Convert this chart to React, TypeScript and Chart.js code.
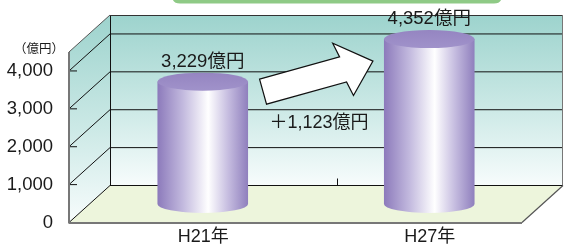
import React, { useEffect, useRef } from 'react';
import { Chart, registerables } from 'chart.js';

Chart.register(...registerables);

const categories = ['H21年', 'H27年'];
const values = [3229, 4352];
const valueLabels = ['3,229億円', '4,352億円'];
const yTicks = [0, 1000, 2000, 3000, 4000];
const yMin = 0;
const yMax = 4500;
const unitLabel = '（億円）';
const diffLabel = '＋1,123億円';

const DX = 41;
const DY = 37;
const FONT = "'Liberation Sans', 'Noto Sans CJK JP', sans-serif";
const TEXT = '#1a1a1a';

const threeDPlugin = {
  id: 'threeD',
  beforeDraw(chart: any) {
    const { ctx } = chart;
    ctx.save();
    // title box remnant at top
    const x0 = 172, x1 = 502, y0 = -12, y1 = 3.5, r = 8;
    ctx.beginPath();
    ctx.moveTo(x0, y0);
    ctx.lineTo(x0, y1 - r);
    ctx.quadraticCurveTo(x0, y1, x0 + r, y1);
    ctx.lineTo(x1 - r, y1);
    ctx.quadraticCurveTo(x1, y1, x1, y1 - r);
    ctx.lineTo(x1, y0);
    ctx.closePath();
    ctx.fillStyle = '#8fca86';
    ctx.fill();
    ctx.restore();
  },
  beforeDatasetsDraw(chart: any) {
    const { ctx, chartArea: a, scales } = chart;
    const y = scales.y;
    const x = scales.x;
    const L = a.left;
    const R = a.right;
    const T = y.getPixelForValue(yMax);
    const B = y.getPixelForValue(yMin);
    ctx.save();

    // back wall
    const g = ctx.createLinearGradient(0, T - DY, 0, B - DY);
    g.addColorStop(0, '#9dd3cd');
    g.addColorStop(0.55, '#cce9e6');
    g.addColorStop(1, '#f7fcfc');
    ctx.fillStyle = g;
    ctx.fillRect(L + DX, T - DY, R - L, B - T);

    // left wall
    const g2 = ctx.createLinearGradient(0, T - DY, 0, B);
    g2.addColorStop(0, '#9dd3cd');
    g2.addColorStop(0.55, '#cce9e6');
    g2.addColorStop(1, '#f7fcfc');
    ctx.beginPath();
    ctx.moveTo(L, T);
    ctx.lineTo(L + DX, T - DY);
    ctx.lineTo(L + DX, B - DY);
    ctx.lineTo(L, B);
    ctx.closePath();
    ctx.fillStyle = g2;
    ctx.fill();

    // floor
    ctx.beginPath();
    ctx.moveTo(L, B);
    ctx.lineTo(R, B);
    ctx.lineTo(R + DX, B - DY);
    ctx.lineTo(L + DX, B - DY);
    ctx.closePath();
    ctx.fillStyle = '#edf5dc';
    ctx.fill();

    // grid lines
    ctx.strokeStyle = '#111';
    ctx.lineWidth = 1;
    yTicks.forEach((v) => {
      const py = y.getPixelForValue(v);
      ctx.beginPath();
      ctx.moveTo(L, py);
      ctx.lineTo(L + DX, py - DY);
      ctx.lineTo(R + DX, py - DY);
      ctx.stroke();
      if (v > 0) {
        ctx.beginPath();
        ctx.moveTo(L, py);
        ctx.lineTo(L + 8, py);
        ctx.stroke();
      }
    });

    // back wall left edge
    ctx.beginPath();
    ctx.moveTo(L + DX + 0.5, T - DY);
    ctx.lineTo(L + DX + 0.5, B - DY);
    ctx.stroke();

    // back wall top edge
    ctx.strokeStyle = '#333';
    ctx.beginPath();
    ctx.moveTo(L + DX, T - DY + 0.5);
    ctx.lineTo(R + DX, T - DY + 0.5);
    ctx.stroke();

    // back wall right edge
    ctx.strokeStyle = '#777';
    ctx.beginPath();
    ctx.moveTo(R + DX - 0.5, T - DY);
    ctx.lineTo(R + DX - 0.5, B - DY);
    ctx.stroke();

    // left wall top edge
    ctx.strokeStyle = '#555';
    ctx.beginPath();
    ctx.moveTo(L, T);
    ctx.lineTo(L + DX, T - DY);
    ctx.stroke();

    // front axis
    ctx.strokeStyle = '#777';
    ctx.lineWidth = 2;
    ctx.beginPath();
    ctx.moveTo(L, T);
    ctx.lineTo(L, B + 1);
    ctx.stroke();

    // floor front edge and right diagonal
    ctx.beginPath();
    ctx.moveTo(L, B + 0.5);
    ctx.lineTo(R, B + 0.5);
    ctx.stroke();
    ctx.lineWidth = 1.2;
    ctx.strokeStyle = '#555';
    ctx.beginPath();
    ctx.moveTo(R, B);
    ctx.lineTo(R + DX, B - DY);
    ctx.stroke();

    // category separator tick on back wall
    const p0 = x.getPixelForValue(0);
    const p1 = x.getPixelForValue(1);
    const sx = Math.round((p0 + p1) / 2 + DX) + 0.5;
    ctx.strokeStyle = '#111';
    ctx.lineWidth = 1;
    ctx.beginPath();
    ctx.moveTo(sx, B - DY - 7);
    ctx.lineTo(sx, B - DY);
    ctx.stroke();

    // unit label
    ctx.fillStyle = TEXT;
    ctx.font = "12.5px 'Noto Sans CJK JP', sans-serif";
    ctx.textAlign = 'center';
    ctx.textBaseline = 'middle';
    ctx.fillText(unitLabel, L - 30, T - 4);

    ctx.restore();
  },
  afterDatasetsDraw(chart: any) {
    const { ctx } = chart;
    const meta = chart.getDatasetMeta(0);
    ctx.save();
    const centers: { cx: number; rx: number; top: number }[] = [];
    meta.data.forEach((bar: any, i: number) => {
      const p = bar.getProps(['x', 'y', 'base', 'width'], true);
      const cx = p.x + DX / 2;
      const top = p.y - DY / 2;
      const bottom = p.base - DY / 2;
      const rx = p.width / 2;
      const ry = 9;
      centers.push({ cx, rx, top });

      const sg = ctx.createLinearGradient(cx - rx, 0, cx + rx, 0);
      sg.addColorStop(0, '#8c7abb');
      sg.addColorStop(0.28, '#c2b9de');
      sg.addColorStop(0.56, '#ffffff');
      sg.addColorStop(0.78, '#c6bde0');
      sg.addColorStop(1, '#8f7fbd');
      ctx.beginPath();
      ctx.moveTo(cx - rx, top);
      ctx.lineTo(cx - rx, bottom);
      ctx.ellipse(cx, bottom, rx, ry, 0, Math.PI, 0, true);
      ctx.lineTo(cx + rx, top);
      ctx.closePath();
      ctx.fillStyle = sg;
      ctx.fill();

      const tg = ctx.createLinearGradient(0, top - ry, 0, top + ry);
      tg.addColorStop(0, '#9585c1');
      tg.addColorStop(1, '#a092ca');
      ctx.beginPath();
      ctx.ellipse(cx, top, rx, ry, 0, 0, Math.PI * 2);
      ctx.fillStyle = tg;
      ctx.fill();

      ctx.fillStyle = TEXT;
      ctx.font = `18.5px ${FONT}`;
      ctx.textAlign = 'center';
      ctx.textBaseline = 'middle';
      ctx.fillText(valueLabels[i], cx, top - ry - 11);
    });

    // arrow between bars
    if (centers.length === 2) {
      const a0 = centers[0];
      const a1 = centers[1];
      const sx = a0.cx + a0.rx + 15;
      const sy = a0.top + 10;
      const ex = a1.cx - a1.rx - 11;
      const ey = a1.top + 22;
      const ang = Math.atan2(ey - sy, ex - sx);
      const len = Math.hypot(ex - sx, ey - sy);
      const hw = 13;
      const hh = 28;
      const hl = 31;
      ctx.save();
      ctx.translate(sx, sy);
      ctx.rotate(ang);
      ctx.beginPath();
      ctx.moveTo(0, -hw);
      ctx.lineTo(len - hl, -hw);
      ctx.lineTo(len - hl - 3, -hh);
      ctx.lineTo(len, 0);
      ctx.lineTo(len - hl + 3, hh);
      ctx.lineTo(len - hl, hw);
      ctx.lineTo(0, hw);
      ctx.closePath();
      ctx.fillStyle = '#ffffff';
      ctx.fill();
      ctx.strokeStyle = '#111';
      ctx.lineWidth = 1.2;
      ctx.lineJoin = 'miter';
      ctx.stroke();
      ctx.restore();

      ctx.fillStyle = TEXT;
      ctx.font = `18px ${FONT}`;
      ctx.textAlign = 'center';
      ctx.textBaseline = 'middle';
      ctx.fillText(diffLabel, (sx + ex) / 2 + 1, sy + 31);
    }
    ctx.restore();
  },
};

export default function App() {
  const ref = useRef<HTMLCanvasElement | null>(null);
  useEffect(() => {
    if (!ref.current) return;
    const chart = new Chart(ref.current, {
      type: 'bar',
      data: {
        labels: categories,
        datasets: [
          {
            data: values,
            backgroundColor: 'rgba(0,0,0,0)',
            borderWidth: 0,
            barPercentage: 0.4,
            categoryPercentage: 1,
          },
        ],
      },
      options: {
        responsive: false,
        animation: false,
        devicePixelRatio: 1,
        layout: { padding: { left: 0, right: 51, top: 52, bottom: 0 } },
        plugins: { legend: { display: false }, tooltip: { enabled: false } },
        scales: {
          x: {
            grid: { display: false, drawTicks: false },
            border: { display: false },
            ticks: {
              font: { family: FONT, size: 18 },
              color: TEXT,
              labelOffset: 21,
              padding: 4,
            },
            afterFit(scale: any) {
              scale.height = 21.5;
            },
          },
          y: {
            min: yMin,
            max: yMax,
            grid: { display: false },
            border: { display: false },
            afterBuildTicks(scale: any) {
              scale.ticks = yTicks.map((v) => ({ value: v }));
            },
            ticks: {
              font: { family: FONT, size: 18.5 },
              color: TEXT,
              padding: 8,
              callback: (v: any) => Number(v).toLocaleString('en-US'),
            },
            afterFit(scale: any) {
              scale.width = 69;
            },
          },
        },
      },
      plugins: [threeDPlugin],
    });
    return () => chart.destroy();
  }, []);
  return (
    <div style={{ position: 'absolute', left: 0, top: 0, width: 573, height: 244 }}>
      <canvas ref={ref} width={573} height={244} />
    </div>
  );
}
